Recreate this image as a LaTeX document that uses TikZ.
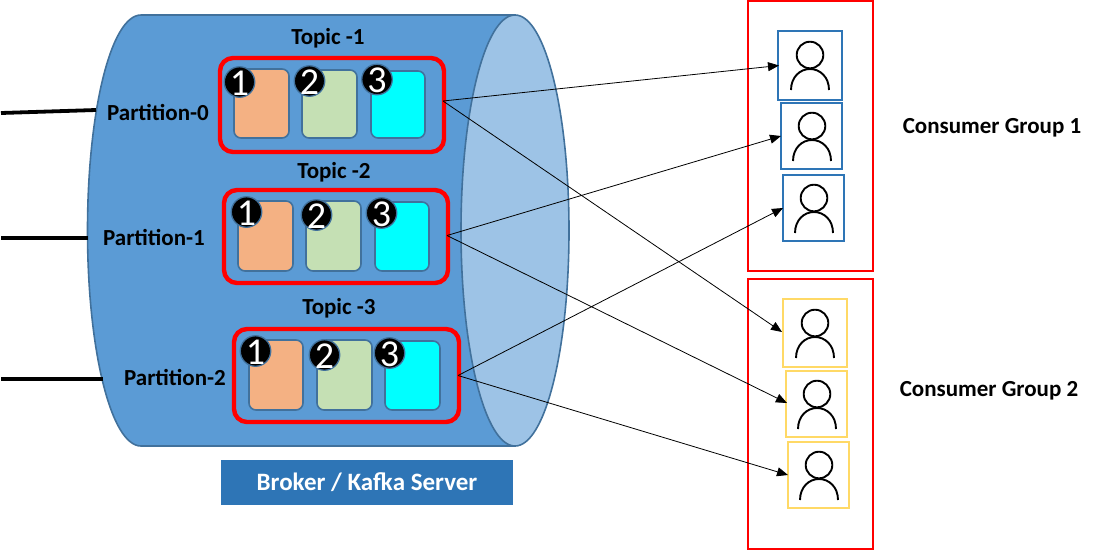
\documentclass[tikz,border=0pt]{standalone}
\usepackage{fontspec}
\setmainfont{Carlito}
\usetikzlibrary{arrows.meta,calc}
\tikzset{
  x=1pt,y=-1pt,
  lbl/.style={font=\bfseries\fontsize{23}{25}\selectfont,text=black,inner sep=0pt,anchor=center},
  feed/.style={line width=3.8pt,black},
  topicbox/.style={draw=red,line width=4.4pt,rounded corners=13pt,inner sep=0pt,outer sep=0pt},
  orangecell/.style={draw=cellline,fill=cellorange,line width=1.6pt,rounded corners=7pt,inner sep=0pt,outer sep=0pt},
  greencell/.style={draw=cellline,fill=cellgreen,line width=1.6pt,rounded corners=7pt,inner sep=0pt,outer sep=0pt},
  cyancell/.style={draw=cellline,fill=cellcyan,line width=1.6pt,rounded corners=7pt,inner sep=0pt,outer sep=0pt},
  badge/.style={circle,fill=black,draw=cellline,line width=1.3pt,minimum size=30.5pt,inner sep=0pt,outer sep=0pt,text=white,font=\fontsize{38}{38}\selectfont},
  grpbox/.style={draw=red,line width=1.6pt,inner sep=0pt,outer sep=0pt},
  blueuser/.style={draw=userblue,line width=1.7pt,inner sep=0pt,outer sep=0pt},
  yellowuser/.style={draw=useryellow,line width=1.7pt,inner sep=0pt,outer sep=0pt},
  link/.style={black,line width=0.8pt,-{Triangle[length=11pt,width=9pt]}},
  icon/.style={black,line width=1.9pt},
}
\definecolor{cylfill}{HTML}{5B9BD5}
\definecolor{cylend}{HTML}{9DC3E6}
\definecolor{cylline}{HTML}{41719C}
\definecolor{cellline}{HTML}{41719C}
\definecolor{cellorange}{HTML}{F4B183}
\definecolor{cellgreen}{HTML}{C5E0B4}
\definecolor{cellcyan}{RGB}{0,255,255}
\definecolor{userblue}{HTML}{2E75B6}
\definecolor{useryellow}{HTML}{FFD966}
\definecolor{brokerfill}{HTML}{2E75B6}
\newcommand{\boxat}[7]{\node[#1,minimum width=#4-#2,minimum height=#5-#3,anchor=north west] (#6) at (#2,#3) {#7};}
\newcommand{\bdigit}[1]{\makebox[0pt]{\raisebox{-13pt}[0pt][0pt]{#1}}}
\newcommand{\personicon}[3]{%
  \draw[icon] (#2,#3) circle[radius=13.3pt];
  \draw[icon] (#2-19,#3+35) .. controls (#2-19,#3+22) and (#2-10,#3+14) .. (#2,#3+14) .. controls (#2+10,#3+14) and (#2+19,#3+22) .. (#2+19,#3+35);
}
\begin{document}
\begin{tikzpicture}
\useasboundingbox (0,0) rectangle (1099,550);
% cylinder
\draw[draw=cylline,fill=cylfill,line width=1.6pt] (515,15) -- (141,15)
  .. controls (111,15) and (87.5,111) .. (87.5,230.5)
  .. controls (87.5,350) and (111,446) .. (141,446) -- (515,446) -- cycle;
\draw[draw=cylline,fill=cylend,line width=1.6pt] (515,15)
  .. controls (545,15) and (569,111) .. (569,230.5)
  .. controls (569,350) and (545,446) .. (515,446)
  .. controls (485,446) and (461,350) .. (461,230.5)
  .. controls (461,111) and (485,15) .. (515,15) -- cycle;
% feeds
\coordinate (in0) at (1,113);
\coordinate (in1) at (1,238);
\coordinate (in2) at (1,379);
\coordinate (edge0) at (96,110);
\coordinate (edge1) at (88,238);
\coordinate (edge2) at (103,379);
\draw[feed] (in0) -- (edge0);
\draw[feed] (in1) -- (edge1);
\draw[feed] (in2) -- (edge2);
% topic boxes
\boxat{topicbox}{220}{58}{444}{152}{tA}{}
\boxat{topicbox}{224}{190}{448}{283}{tB}{}
\boxat{topicbox}{234}{329}{459}{422}{tC}{}
% cells
\boxat{orangecell}{234}{69}{289}{138}{a1}{}
\boxat{greencell}{302}{70}{357}{138}{a2}{}
\boxat{cyancell}{371}{71}{425}{138}{a3}{}
\boxat{orangecell}{238}{201}{293}{271}{b1}{}
\boxat{greencell}{306}{201}{361}{271}{b2}{}
\boxat{cyancell}{375}{202}{429}{271}{b3}{}
\boxat{orangecell}{249}{340}{303}{410}{c1}{}
\boxat{greencell}{317}{340}{372}{410}{c2}{}
\boxat{cyancell}{385}{341}{440}{410}{c3}{}
% badges
\node[badge] (na1) at (239.5,82) {\bdigit{1}};
\node[badge] (na2) at (309.5,81) {\bdigit{2}};
\node[badge] (na3) at (377,79.5) {\bdigit{3}};
\node[badge] (nb1) at (246.5,212) {\bdigit{1}};
\node[badge] (nb2) at (316.5,215) {\bdigit{2}};
\node[badge] (nb3) at (381.5,213) {\bdigit{3}};
\node[badge] (nc1) at (255.5,351) {\bdigit{1}};
\node[badge] (nc2) at (324.5,355) {\bdigit{2}};
\node[badge] (nc3) at (389.5,353) {\bdigit{3}};
% labels
\node[lbl] (l1) at (328,38) {Topic -1};
\node[lbl] (l2) at (334,172) {Topic -2};
\node[lbl] (l3) at (339,308) {Topic -3};
\node[lbl] (p0) at (158,112) {Partition-0};
\node[lbl] (p1) at (154,237) {Partition-1};
\node[lbl] (p2) at (175,377) {Partition-2};
\node[lbl] (g1) at (992,128) {Consumer Group 1};
\node[lbl] (g2) at (989,391) {Consumer Group 2};
% broker
\node[fill=brokerfill,minimum width=292pt,minimum height=45pt,inner sep=0pt,outer sep=0pt,text=white,font=\bfseries\fontsize{25}{27}\selectfont] (broker) at (367,482.5) {\raisebox{-1pt}{Broker / Kafka Server}};
% groups
\boxat{grpbox}{748}{1}{873}{271}{grpA}{}
\boxat{grpbox}{748}{279}{873}{549}{grpB}{}
% users
\boxat{blueuser}{778}{31}{842}{100}{u1}{}
\boxat{blueuser}{781}{103}{842}{169}{u2}{}
\boxat{blueuser}{783}{175}{844}{241}{u3}{}
\boxat{yellowuser}{783}{299}{847}{367}{v1}{}
\boxat{yellowuser}{786}{371}{847}{437}{v2}{}
\boxat{yellowuser}{788}{442}{849}{508}{v3}{}
\personicon{u1}{810}{55}
\personicon{u2}{812}{126}
\personicon{u3}{814}{198}
\personicon{v1}{815}{323}
\personicon{v2}{817}{394}
\personicon{v3}{819}{465}
% connectors
\coordinate (oa) at ($(tA.east)+(-1,-4)$);
\draw[link] (oa) -- ($(u1.west)+(1,0)$);
\draw[link] (oa) -- ($(v1.west)+(-1,-1)$);
\coordinate (ob) at ($(tB.east)+(-1,-1)$);
\draw[link] (ob) -- (u2.west);
\draw[link] (ob) -- ($(v2.west)+(1,-1)$);
\coordinate (oc) at ($(tC.east)+(-1,0)$);
\draw[link] (oc) -- (u3.west);
\draw[link] (oc) -- (v3.west);
\end{tikzpicture}
\end{document}
